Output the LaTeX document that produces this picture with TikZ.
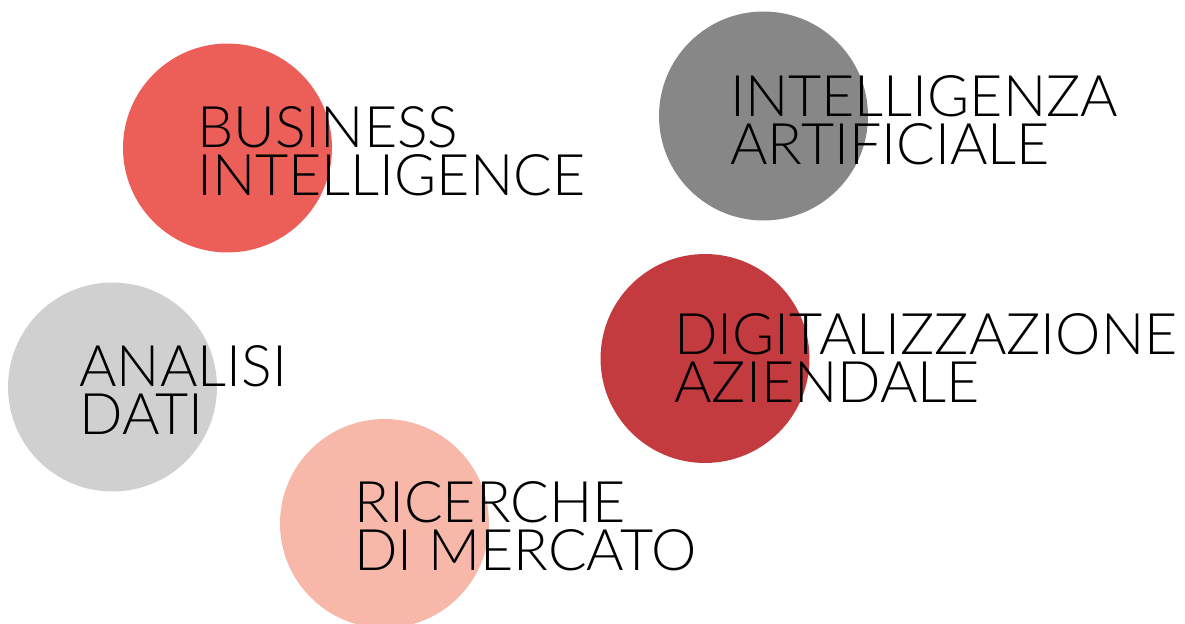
\documentclass[tikz,border=0pt]{standalone}
\usepackage{fontspec}
\setmainfont{Lato Light}
\usepackage{tikz}
\usetikzlibrary{positioning, shapes.geometric}
\definecolor{CCoral}{HTML}{EC5F59}
\definecolor{CGrey}{HTML}{878787}
\definecolor{CSilver}{HTML}{D0D0D0}
\definecolor{CCrimson}{HTML}{C43B3F}
\definecolor{CSalmon}{HTML}{F7B8AA}
\tikzset{
    blob/.style={
        circle,
        draw=none,
        inner sep=0pt,
        minimum size=4.18cm
    },
    caption/.style={
        anchor=base west,
        align=left,
        inner sep=0pt,
        text=black,
        font=\fontsize{32.6pt}{27.4pt}\selectfont
    }
}

\begin{document}
\begin{tikzpicture}[x=0.02cm, y=-0.02cm]
    \useasboundingbox[fill=white] (0,0) rectangle (1185,624);

    % Circles
    \node[blob, fill=CCoral] (bicirc) at (227.5,148) {};
    \node[blob, fill=CGrey] (aicirc) at (763.5,116) {};
    \node[blob, fill=CSilver] (adcirc) at (112.5,387) {};
    \node[blob, fill=CCrimson] (dacirc) at (705,358.5) {};
    \node[blob, fill=CSalmon] (rmcirc) at (384.5,523.5) {};

    % Labels
    \node[caption] (bi) at (197,195.7) {BUSINESS\\INTELLIGENCE};
    \node[caption] (ai) at (730,164.3) {INTELLIGENZA\\ARTIFICIALE};
    \node[caption] (ad) at (79,434.7) {ANALISI\\DATI};
    \node[caption] (da) at (674,402.3) {DIGITALIZZAZIONE\\AZIENDALE};
    \node[caption] (rm) at (354,570.7) {RICERCHE\\DI MERCATO};

\end{tikzpicture}
\end{document}
